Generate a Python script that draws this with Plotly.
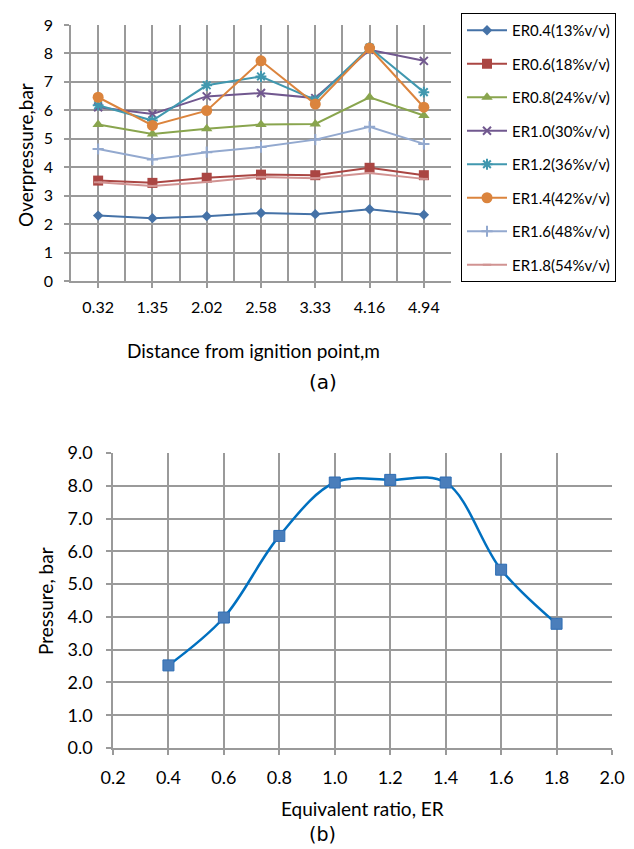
import plotly.graph_objects as go

W, H = 634, 849

# ---------------- data: chart (a) ----------------
distances = ["0.32", "1.35", "2.02", "2.58", "3.33", "4.16", "4.94"]
series_names = ["ER0.4(13%v/v)", "ER0.6(18%v/v)", "ER0.8(24%v/v)", "ER1.0(30%v/v)",
                "ER1.2(36%v/v)", "ER1.4(42%v/v)", "ER1.6(48%v/v)", "ER1.8(54%v/v)"]
er04 = [2.30, 2.21, 2.28, 2.39, 2.35, 2.52, 2.33]
er06 = [3.53, 3.45, 3.63, 3.74, 3.72, 3.98, 3.72]
er08 = [5.50, 5.17, 5.35, 5.50, 5.52, 6.46, 5.82]
er10 = [6.11, 5.87, 6.49, 6.61, 6.43, 8.13, 7.74]
er12 = [6.18, 5.64, 6.88, 7.19, 6.37, 8.21, 6.64]
er14 = [6.46, 5.47, 5.99, 7.74, 6.22, 8.19, 6.11]
er16 = [4.64, 4.27, 4.53, 4.71, 4.97, 5.42, 4.82]
er18 = [3.47, 3.34, 3.48, 3.66, 3.61, 3.80, 3.59]
yticks_a = [0, 1, 2, 3, 4, 5, 6, 7, 8, 9]

# ---------------- data: chart (b) ----------------
er_ratio = [0.4, 0.6, 0.8, 1.0, 1.2, 1.4, 1.6, 1.8]
peak_pressure = [2.52, 3.98, 6.47, 8.10, 8.18, 8.10, 5.44, 3.79]

# ---------------- styling ----------------
colors = ["#4572A7", "#AA4643", "#89A54E", "#71588F", "#4198AF", "#DB843D", "#93A9CF", "#D19392"]
symbols = ["diamond", "square", "triangle-up", "x-thin-open", "asterisk-open", "circle",
           "cross-thin-open", "line-ew-open"]
sizes = [8, 10, 10, 8, 9, 11, 8, 6]
FONT = "Lato"
GRID = "#9A9A9A"

def px_x(p):
    return p / W

def px_y(p):
    return 1 - p / H

fig = go.Figure()

all_series = [er04, er06, er08, er10, er12, er14, er16, er18]
xidx = list(range(len(distances)))
for name, vals, c, s, sz in zip(series_names, all_series, colors, symbols, sizes):
    open_sym = s.endswith("-open")
    fig.add_trace(go.Scatter(
        x=xidx, y=vals, name=name, mode="lines+markers",
        xaxis="x", yaxis="y", legendgroup=name,
        line=dict(color=c, width=2),
        marker=dict(symbol=s, size=sz, color=c,
                    line=dict(color=c, width=2 if open_sym else 0)),
    ))

fig.add_trace(go.Scatter(
    x=er_ratio, y=peak_pressure, mode="lines+markers", showlegend=False,
    xaxis="x2", yaxis="y2",
    line=dict(color="#0070C0", width=2.5, shape="spline", smoothing=1.0),
    marker=dict(symbol="square", size=11, color="#4A7EBB",
                line=dict(color="#2E6DB4", width=1)),
))

axis_common = dict(showline=True, linecolor=GRID, linewidth=1.5, mirror=False,
                   showgrid=True, gridcolor=GRID, gridwidth=1.5, zeroline=False,
                   ticks="outside", ticklen=5, tickcolor=GRID, tickwidth=1.5)

fig.update_layout(
    width=W, height=H,
    margin=dict(l=0, r=0, t=0, b=0, autoexpand=False),
    paper_bgcolor="white", plot_bgcolor="white",
    font=dict(family=FONT, color="#000000"),
    xaxis=dict(domain=[px_x(63), px_x(443)], anchor="y", range=[-0.5, 6.5],
               tickmode="array", tickvals=xidx, ticktext=distances,
               tickfont=dict(size=16), ticklabelstandoff=6,
               minor=dict(tickmode="linear", tick0=-0.5, dtick=1, showgrid=True,
                          gridcolor=GRID, gridwidth=1.5, ticks=""),
               **axis_common),
    yaxis=dict(domain=[px_y(273), px_y(17)], anchor="x", range=[0, 9],
               tickmode="array", tickvals=yticks_a, tickfont=dict(size=16),
               ticklabelstandoff=8, **axis_common),
    xaxis2=dict(domain=[px_x(105), px_x(604)], anchor="y2", range=[0.2, 2.0],
                tick0=0.2, dtick=0.2, tickformat=".1f", tickfont=dict(size=18),
                ticklabelstandoff=8, **axis_common),
    yaxis2=dict(domain=[px_y(740), px_y(445)], anchor="x2", range=[0, 9],
                tick0=0, dtick=1, tickformat=".1f", tickfont=dict(size=18),
                ticklabelstandoff=10, **axis_common),
    legend=dict(x=px_x(453), y=px_y(5), xanchor="left", yanchor="top",
                bordercolor="#000000", borderwidth=1, bgcolor="white",
                font=dict(size=15, family=FONT), tracegroupgap=11,
                itemwidth=40),
)

ann = [
    dict(text="Overpressure,bar", x=px_x(17), y=px_y(147), textangle=-90, size=19, fam=FONT),
    dict(text="Distance from ignition point,m", x=px_x(246), y=px_y(342), textangle=0, size=19, fam=FONT),
    dict(text="(a)", x=px_x(315), y=px_y(374), textangle=0, size=20, fam="DejaVu Sans"),
    dict(text="Pressure, bar", x=px_x(37), y=px_y(593), textangle=-90, size=19, fam=FONT),
    dict(text="Equivalent ratio, ER", x=px_x(354), y=px_y(800), textangle=0, size=19, fam=FONT),
    dict(text="(b)", x=px_x(314), y=px_y(826), textangle=0, size=19, fam="DejaVu Sans"),
]
for a in ann:
    fig.add_annotation(text=a["text"], x=a["x"], y=a["y"], xref="paper", yref="paper",
                       xanchor="center", yanchor="middle", showarrow=False,
                       textangle=a["textangle"], borderpad=0,
                       font=dict(size=a["size"], family=a["fam"], color="#000000"))

fig.write_html("out.html")
